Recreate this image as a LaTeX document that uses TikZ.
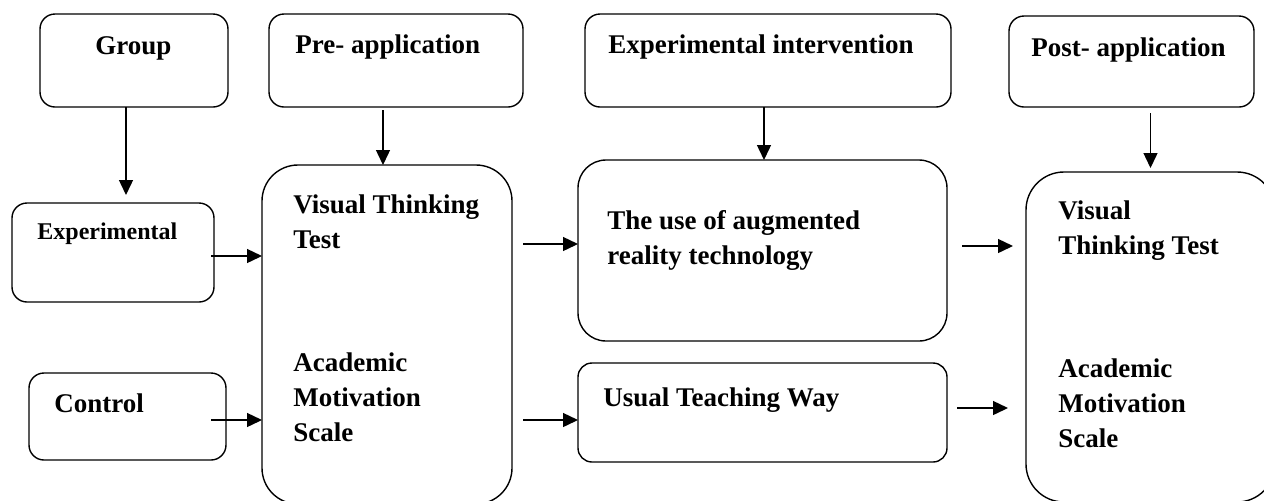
\documentclass[tikz,border=0pt]{standalone}
\usepackage{fontspec}
\setmainfont{Liberation Serif}
\usetikzlibrary{arrows.meta}
\begin{document}
\begin{tikzpicture}[x=0.5pt,y=-0.5pt,
  box/.style={draw, line width=0.7pt, rounded corners=7.5pt, inner sep=0pt, outer sep=0pt},
  lbl/.style={inner sep=0pt, font=\fontsize{13.5}{17.5}\selectfont\bfseries, align=left},
  arr/.style={-{Triangle[length=7.5pt,width=7pt]}, line width=0.7pt}]
\useasboundingbox (0,0) rectangle (1264,500);
% Top row
\node[box, minimum width=94pt, minimum height=46.5pt] (grp) at (134,60.5) {};
\node[box, minimum width=127pt, minimum height=46.5pt] (pre) at (396,60.5) {};
\node[box, minimum width=183pt, minimum height=46.5pt] (exi) at (768,60.5) {};
\node[box, minimum width=122.5pt, minimum height=45.5pt] (post) at (1131.5,61.5) {};
\node[lbl, anchor=base west] (grpT) at (95,54) {Group};
\node[lbl, anchor=base west] (preT) at (295,53) {Pre- application};
\node[lbl, anchor=base west] (exiT) at (608,53) {Experimental intervention};
\node[lbl, anchor=base west] (postT) at (1031,56) {Post- application};
% Groups
\node[box, minimum width=101pt, minimum height=49.5pt] (expg) at (113,252.5) {};
\node[box, minimum width=98.5pt, minimum height=43.5pt] (ctrl) at (127.5,416.5) {};
\node[lbl, anchor=base west, font=\fontsize{12}{14}\selectfont\bfseries] (expgT) at (37,239) {Experimental};
\node[lbl, anchor=base west] (ctrlT) at (54,412) {Control};
% Pre test
\node[box, rounded corners=18pt, minimum width=125pt, minimum height=169.5pt] (big1) at (387,334.5) {};
\node[lbl, anchor=north west] (vtt1) at (293,194.6) {Visual Thinking\\Test};
\node[lbl, anchor=north west] (ams1) at (293,352.6) {Academic\\Motivation\\Scale};
% Intervention
\node[box, rounded corners=14pt, minimum width=184.5pt, minimum height=90.5pt] (ar) at (762.5,250.5) {};
\node[box, rounded corners=7pt, minimum width=184.5pt, minimum height=49.5pt] (usual) at (762.5,412.5) {};
\node[lbl, anchor=north west] (arT) at (607,209.6) {The use of augmented\\reality technology};
\node[lbl, anchor=base west] (usualT) at (603,406) {Usual Teaching Way};
% Post test
\node[box, rounded corners=19pt, minimum width=124.5pt, minimum height=165pt] (big2) at (1150.5,337) {};
\node[lbl, anchor=north west] (vtt2) at (1058,200.6) {Visual\\Thinking Test};
\node[lbl, anchor=north west] (ams2) at (1058,358.6) {Academic\\Motivation\\Scale};
% Arrows down
\coordinate (d1) at ([xshift=-4pt]grp.south);
\draw[arr] (d1) -- ([yshift=4pt]d1 |- expg.north);
\coordinate (d2) at ([xshift=-6.5pt,yshift=-1.5pt]pre.south);
\draw[arr] (d2) -- (d2 |- big1.north);
\coordinate (d3) at ([xshift=-2pt]exi.south);
\draw[arr] (d3) -- (d3 |- ar.north);
\coordinate (d4) at ([yshift=-3pt]post.south -| big2.north);
\draw[arr] (d4) -- ([yshift=2pt]big2.north);
% Arrows right
\coordinate (r1) at ([xshift=-1.5pt,yshift=-1.75pt]expg.east);
\draw[arr] (r1) -- (r1 -| big1.west);
\coordinate (r2) at ([xshift=-7.5pt,yshift=-1.75pt]ctrl.east);
\draw[arr] (r2) -- (r2 -| big1.west);
\coordinate (r3e) at ([yshift=3.25pt]ar.west);
\coordinate (r3) at ([xshift=5.5pt]big1.east |- r3e);
\draw[arr] (r3) -- (r3e);
\coordinate (r4e) at ([yshift=-3.75pt]usual.west);
\coordinate (r4) at ([xshift=5.5pt]big1.east |- r4e);
\draw[arr] (r4) -- (r4e);
\coordinate (r5) at ([xshift=7.5pt,yshift=2.25pt]ar.east);
\draw[arr] (r5) -- ([xshift=-6.5pt]r5 -| big2.west);
\coordinate (r6) at ([xshift=5pt,yshift=2.25pt]usual.east);
\draw[arr] (r6) -- ([xshift=-9pt]r6 -| big2.west);
\end{tikzpicture}
\end{document}
